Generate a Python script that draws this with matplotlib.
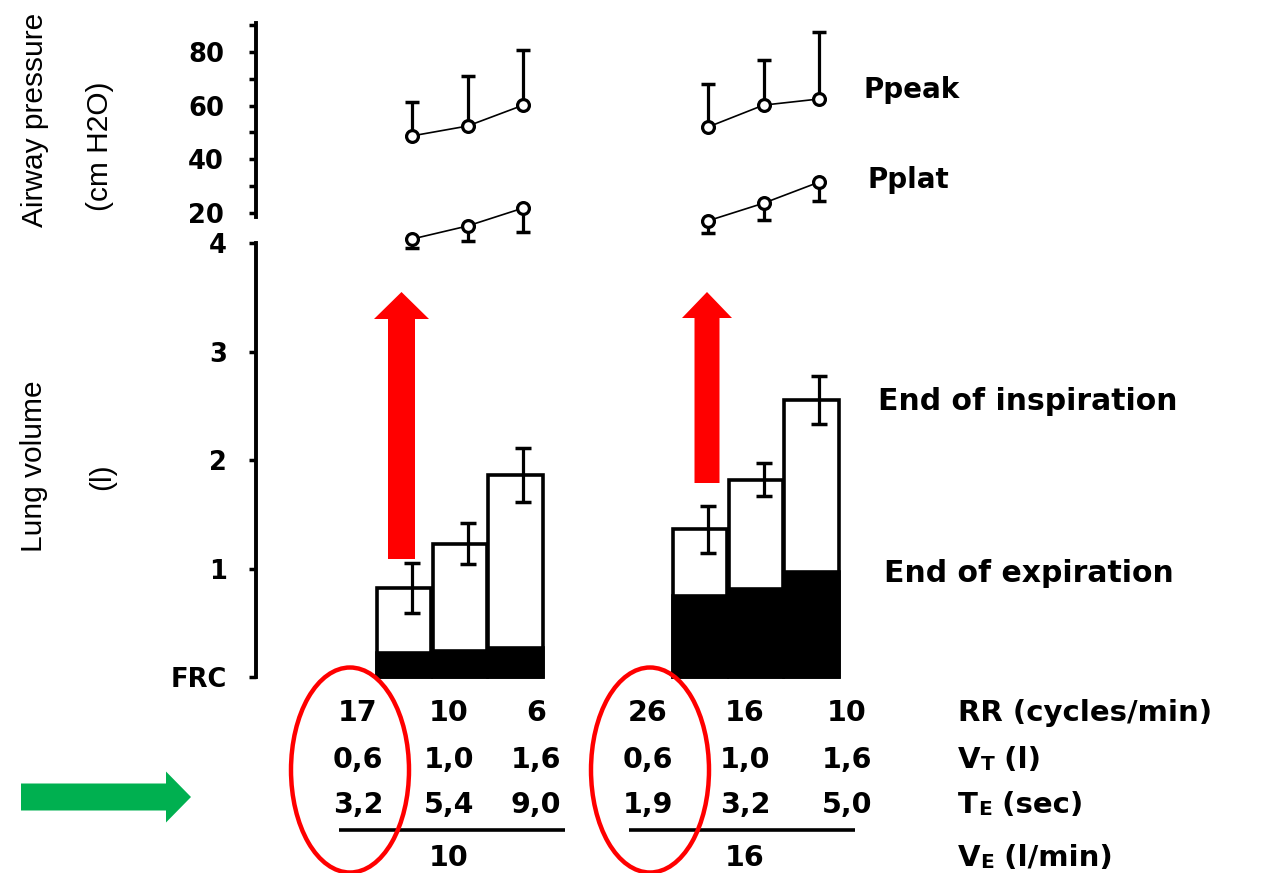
import matplotlib
matplotlib.use("Agg")
import matplotlib.pyplot as plt
from matplotlib.patches import Ellipse, FancyArrow
import numpy as np

# ---------------- data ----------------
# three ventilator settings per minute-ventilation group (VE 10 and 16 l/min)
vol_insp = [0.82, 1.23, 1.86, 1.36, 1.82, 2.55]        # end of inspiration (l above FRC)
vol_insp_err = [0.23, 0.19, 0.25, 0.22, 0.15, 0.22]
vol_exp = [0.22, 0.24, 0.27, 0.75, 0.81, 0.97]         # end of expiration (l above FRC)

ppeak = [48.7, 52.4, 60.2, 52.0, 60.2, 62.5]           # cm H2O
ppeak_err_up = [12.6, 18.6, 20.5, 16.1, 16.8, 25.0]
pplat = [10.2, 15.1, 21.8, 17.0, 23.6, 31.5]
pplat_err_down = [3.3, 5.6, 9.0, 4.5, 6.3, 7.1]

rr_vals = ["17", "10", "6", "26", "16", "10"]
vt_vals = ["0,6", "1,0", "1,6", "0,6", "1,0", "1,6"]
te_vals = ["3,2", "5,4", "9,0", "1,9", "3,2", "5,0"]
ve_vals = ["10", "16"]

pressure_ticks = [20, 40, 60, 80]
volume_ticks = [0, 1, 2, 3, 4]
volume_ticklabels = ["FRC", "1", "2", "3", "4"]

# ---------------- layout ----------------
W, H = 1263, 873
plt.rcParams["font.family"] = ["DejaVu Sans"]
fig = plt.figure(figsize=(W / 100, H / 100), dpi=100)

group_gap = 5.31
xpos = np.concatenate([np.arange(3), np.arange(3) + group_gap])
err_dx = 0.14
xlim = (-2.655, 15.41)
ax_left = 256 / W
ax_width = (W - 256) / W

def fig_rect(top_px, bottom_px):
    return [ax_left, (H - bottom_px) / H, ax_width, (bottom_px - top_px) / H]

ax_top = fig.add_axes(fig_rect(10, 260))
ax_bot = fig.add_axes(fig_rect(236, 700))

for ax in (ax_top, ax_bot):
    for s in ("top", "right", "bottom"):
        ax.spines[s].set_visible(False)
    ax.spines["left"].set_linewidth(2.8)
    ax.set_xticks([])
    ax.set_xlim(*xlim)
    ax.patch.set_alpha(0)

# --- top: airway pressure ---
ax_top.set_ylim(2.4, 95.7)
ax_top.spines["left"].set_bounds(18.5, 91)
ax_top.set_yticks(pressure_ticks)
ax_top.set_yticks([30, 50, 70, 90], minor=True)
ax_top.tick_params(axis="y", which="both", direction="out", length=5, width=2.5,
                   labelsize=18.5, pad=18)
for lbl in ax_top.get_yticklabels():
    lbl.set_fontweight("bold")

for sl in (slice(0, 3), slice(3, 6)):
    xs = xpos[sl] + err_dx
    pk = np.array(ppeak[sl]); pl = np.array(pplat[sl])
    ax_top.errorbar(xs, pk, yerr=[np.zeros(3), ppeak_err_up[sl]], fmt="none",
                    ecolor="black", elinewidth=2.3, capsize=5, capthick=2.5, zorder=2)
    ax_top.errorbar(xs, pl, yerr=[pplat_err_down[sl], np.zeros(3)], fmt="none",
                    ecolor="black", elinewidth=2.3, capsize=5, capthick=2.5, zorder=2)
    ax_top.plot(xs, pk, "-o", color="black", lw=1.2, ms=8.5, mfc="white",
                mec="black", mew=2.3, zorder=3)
    ax_top.plot(xs, pl, "-o", color="black", lw=1.2, ms=8.5, mfc="white",
                mec="black", mew=2.3, zorder=3)

# --- bottom: lung volume ---
ax_bot.set_ylim(-0.212, 4.065)
ax_bot.spines["left"].set_bounds(0, 4)
ax_bot.set_yticks(volume_ticks)
ax_bot.set_yticklabels(volume_ticklabels)
ax_bot.tick_params(axis="y", direction="out", length=5, width=2.5, labelsize=18.5, pad=16)
for lbl in ax_bot.get_yticklabels():
    lbl.set_fontweight("bold")

ax_bot.bar(xpos, vol_insp, width=0.97, color="white", edgecolor="black", linewidth=2.6, zorder=2)
ax_bot.bar(xpos, vol_exp, width=0.97, color="black", edgecolor="black", linewidth=2.6, zorder=3)
ax_bot.errorbar(xpos + err_dx, vol_insp, yerr=vol_insp_err, fmt="none", ecolor="black",
                elinewidth=2.3, capsize=6, capthick=2.5, zorder=4)

# ---------------- annotation overlay (pixel coordinates) ----------------
ov = fig.add_axes([0, 0, 1, 1])
ov.set_xlim(0, W)
ov.set_ylim(H, 0)
ov.axis("off")
ov.patch.set_alpha(0)

lab_kw = dict(family="Liberation Sans", fontsize=21.5, rotation=90, ha="center", va="center")
ov.text(35, 120, "Airway pressure", **lab_kw)
ov.text(100, 146, "(cm H2O)", **lab_kw)
ov.text(34, 466, "Lung volume", **lab_kw)
ov.text(102, 477, "(l)", **lab_kw)

ov.text(864, 90, "Ppeak", ha="left", va="center", fontsize=20, fontweight="bold")
ov.text(868, 180, "Pplat", ha="left", va="center", fontsize=20, fontweight="bold")
ov.text(878, 402, "End of inspiration", ha="left", va="center", fontsize=21.5, fontweight="bold")
ov.text(884, 573, "End of expiration", ha="left", va="center", fontsize=21.5, fontweight="bold")

# red arrows
ov.add_patch(FancyArrow(401.5, 559, 0, -267, width=27, head_width=55, head_length=27,
                        length_includes_head=True, color="#ff0000", lw=0, zorder=5))
ov.add_patch(FancyArrow(707, 483, 0, -191, width=25, head_width=50, head_length=26,
                        length_includes_head=True, color="#ff0000", lw=0, zorder=5))
# green arrow
ov.add_patch(FancyArrow(21, 797, 170, 0, width=27, head_width=51, head_length=25,
                        length_includes_head=True, color="#00B050", lw=0, zorder=5))

# table
col_x = [358, 449, 536, 648, 745, 847]
row_y = [713, 760, 805]
tbl = dict(fontsize=20.5, fontweight="bold", ha="center", va="center")
for vals, y in zip([rr_vals, vt_vals, te_vals], row_y):
    for v, x in zip(vals, col_x):
        ov.text(x, y, v, **tbl)
ov.plot([339, 565], [830, 830], color="black", lw=2.6, solid_capstyle="butt")
ov.plot([629, 855], [830, 830], color="black", lw=2.6, solid_capstyle="butt")
for v, x in zip(ve_vals, [449, 745]):
    ov.text(x, 858, v, **tbl)

lab_x = 958
rl = dict(fontsize=21, fontweight="bold", color="black")

def row_label(y, main, small=None, rest=None):
    t1 = ov.text(lab_x, y, main, ha="left", va="center", **rl)
    if small is None:
        return
    t2 = ov.annotate(small, xy=(1, 0), xycoords=t1, ha="left", va="bottom",
                     fontsize=14.5, fontweight="bold")
    ov.annotate(rest, xy=(1, 0), xycoords=t2, ha="left", va="bottom", **rl)

row_label(713, "RR (cycles/min)")
row_label(760, "V", "T", " (l)")
row_label(805, "T", "E", " (sec)")
row_label(858, "V", "E", " (l/min)")

# red ellipses
for cx in (350, 650):
    ov.add_patch(Ellipse((cx, 770), 118, 205, fill=False, edgecolor="#ff0000", lw=3.2, zorder=6))

fig.savefig("out.png", dpi=100)
